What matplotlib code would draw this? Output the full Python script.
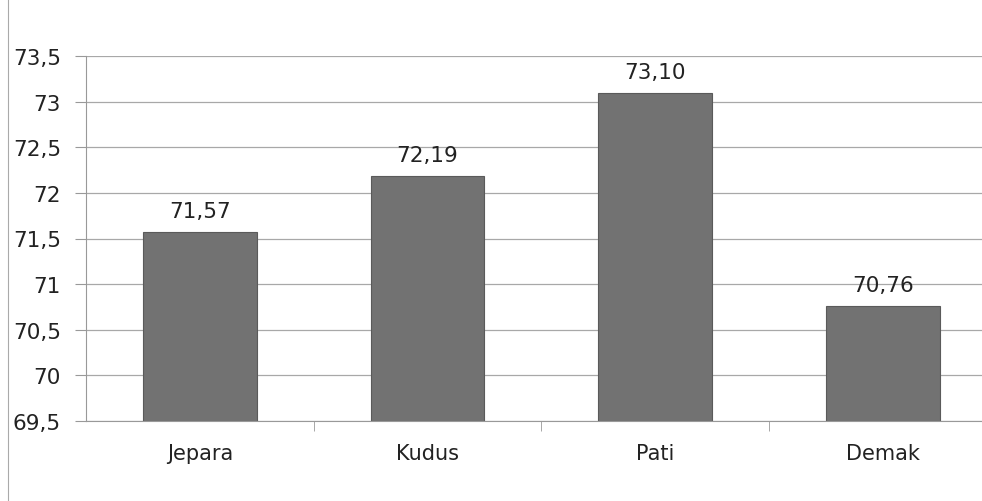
import matplotlib.pyplot as plt
from matplotlib.lines import Line2D

# data
kabupaten = ['Jepara', 'Kudus', 'Pati', 'Demak']
nilai = [71.57, 72.19, 73.10, 70.76]
label_nilai = ['71,57', '72,19', '73,10', '70,76']
yticks = [69.5, 70, 70.5, 71, 71.5, 72, 72.5, 73, 73.5]
ytick_labels = ['69,5', '70', '70,5', '71', '71,5', '72', '72,5', '73', '73,5']

fig = plt.figure(figsize=(9.82, 5.02), dpi=100)
ax = fig.add_axes([86 / 982, 80 / 502, (982 - 86) / 982, 365 / 502])

x = range(len(kabupaten))
bars = ax.bar(x, [v - 69.5 for v in nilai], bottom=69.5, width=0.5,
              color='#727272', edgecolor='#5a5a5a', linewidth=0.8, zorder=2)

for i, b in enumerate(bars):
    ax.text(b.get_x() + b.get_width() / 2, nilai[i] + 0.12, label_nilai[i],
            ha='center', va='bottom', fontsize=15.5, color='#222222')

ax.set_ylim(69.5, 73.5)
ax.set_xlim(-0.5, -0.5 + (982 - 86) / 227.7)
ax.set_yticks(yticks)
ax.set_yticklabels(ytick_labels, fontsize=15.5, color='#222222')
ax.set_xticks(list(x))
ax.set_xticklabels(kabupaten, fontsize=15, color='#222222')
ax.set_xticks([0.5, 1.5, 2.5], minor=True)
ax.tick_params(axis='x', which='major', length=0, pad=16)
ax.tick_params(axis='x', which='minor', length=7, color='#999999')
ax.tick_params(axis='y', length=8, color='#999999', pad=10)
ax.grid(axis='y', color='#a8a8a8', linewidth=0.9, zorder=0)

for s in ['top', 'right']:
    ax.spines[s].set_visible(False)
ax.spines['left'].set_color('#999999')
ax.spines['bottom'].set_color('#999999')

# garis tepi kiri area grafik
fig.add_artist(Line2D([8 / 982, 8 / 982], [0, 1], color='#aaaaaa', linewidth=0.8))

fig.savefig('out.png', dpi=100)
